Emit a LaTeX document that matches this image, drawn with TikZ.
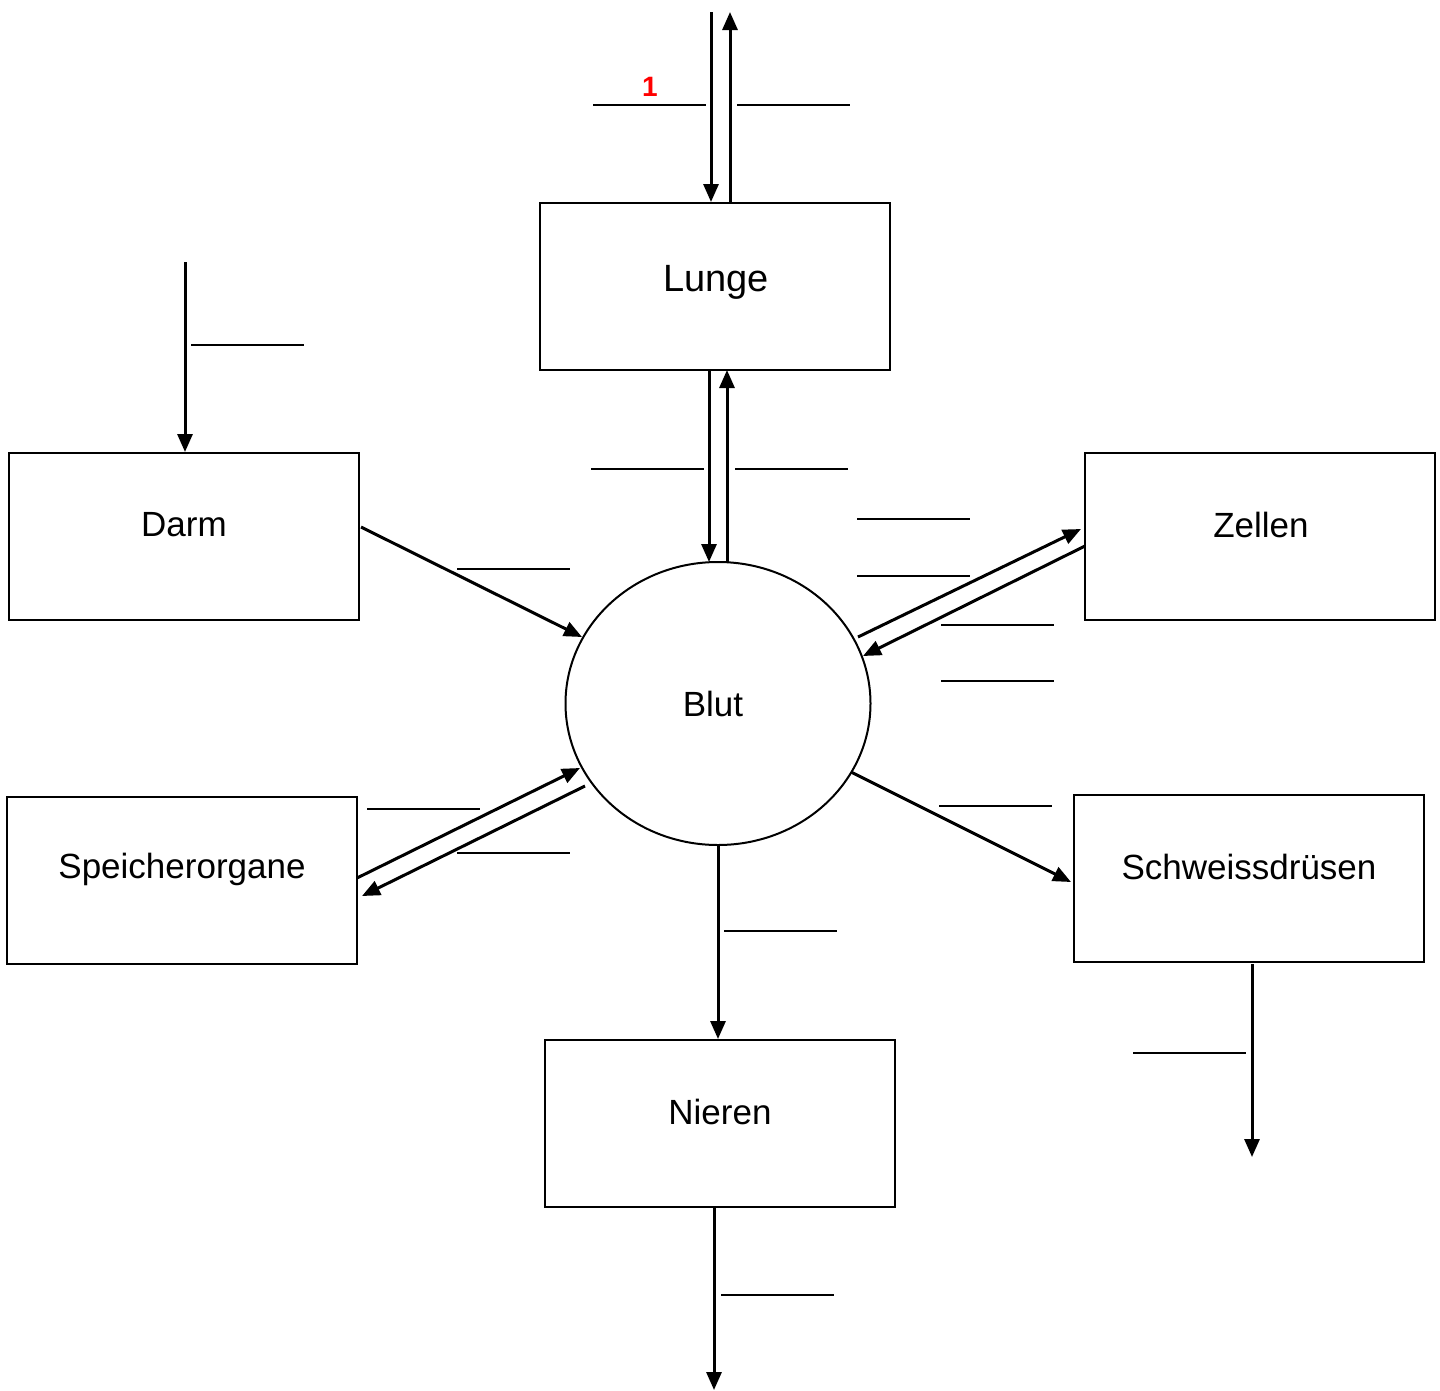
\documentclass[tikz,border=0pt]{standalone}
\usepackage{fontspec}
\setmainfont{Liberation Sans}
\usetikzlibrary{arrows.meta,shapes.geometric}
\tikzset{
  organ/.style={draw,line width=2pt,minimum width=350pt,minimum height=167pt,inner sep=0pt},
  lbl/.style={font=\fontsize{35}{38}\selectfont,inner sep=0pt},
  flow/.style={line width=3pt,-{Triangle[length=18pt,width=15pt]}},
  blank/.style={line width=2pt}
}
\begin{document}
\begin{tikzpicture}[x=1pt,y=-1pt]
\useasboundingbox (0,0) rectangle (1440,1390);
% boxes
\node[organ] (lunge) at (715,286.5) {};
\node[organ] (darm) at (184,536.5) {};
\node[organ] (zellen) at (1260,536.5) {};
\node[organ] (speicher) at (182,880.5) {};
\node[organ] (schweiss) at (1249,878.5) {};
\node[organ] (nieren) at (720,1123) {};
\node[draw,ellipse,line width=2pt,minimum width=305pt,minimum height=283pt,inner sep=0pt] (blut) at (718,703.5) {};
% labels
\node[lbl,font=\fontsize{38}{40}\selectfont] (tlunge) at (716,282) {Lunge};
\node[lbl] (tdarm) at (184,525) {Darm};
\node[lbl] (tzellen) at (1261,525) {Zellen};
\node[lbl] (tspeicher) at (182,869) {Speicherorgane};
\node[lbl] (tschweiss) at (1249,867) {Schweissdrüsen};
\node[lbl] (tnieren) at (720,1112) {Nieren};
\node[lbl] (tblut) at (713,704) {Blut};
\node[font=\fontsize{28}{30}\selectfont\bfseries,text=red,inner sep=0pt] (one) at (650,87) {1};
% free ends
\coordinate (topA) at (711,12);
\coordinate (topB) at (730,12);
\coordinate (darmin) at (185,262);
\coordinate (schout) at (1252,1157);
\coordinate (nieout) at (714,1390);
% vertical arrows
\draw[flow] (topA) -- (topA |- lunge.north);
\draw[flow] (topB |- lunge.north) -- (topB);
\draw[flow] (709,370) -- (709,562);
\draw[flow] (727,562) -- (727,370);
\draw[flow] (darmin) -- (darmin |- darm.north);
\draw[flow] (718,845) -- (718,1039);
\draw[flow] (1252,964) -- (schout);
\draw[flow] (714,1207) -- (nieout);
% diagonal arrows
\coordinate (d1) at (361,527); \coordinate (d2) at (582,637);
\draw[flow] (d1) -- (d2);
\coordinate (z1) at (858,637); \coordinate (z2) at (1081,529);
\draw[flow] (z1) -- (z2);
\coordinate (z3) at (1085,546); \coordinate (z4) at (863,656);
\draw[flow] (z3) -- (z4);
\coordinate (s1) at (357,878); \coordinate (s2) at (580,768);
\draw[flow] (s1) -- (s2);
\coordinate (s3) at (585,786); \coordinate (s4) at (362,896);
\draw[flow] (s3) -- (s4);
\coordinate (w1) at (851,772); \coordinate (w2) at (1071,882);
\draw[flow] (w1) -- (w2);
% blank answer lines
\draw[blank] (593,105) -- (706,105);
\draw[blank] (737,105) -- (850,105);
\draw[blank] (191,345) -- (304,345);
\draw[blank] (591,469) -- (704,469);
\draw[blank] (735,469) -- (848,469);
\draw[blank] (857,519) -- (970,519);
\draw[blank] (857,576) -- (970,576);
\draw[blank] (941,625) -- (1054,625);
\draw[blank] (941,681) -- (1054,681);
\draw[blank] (457,569) -- (570,569);
\draw[blank] (367,809) -- (480,809);
\draw[blank] (457,853) -- (570,853);
\draw[blank] (939,806) -- (1052,806);
\draw[blank] (724,931) -- (837,931);
\draw[blank] (1133,1053) -- (1246,1053);
\draw[blank] (721,1295) -- (834,1295);
\end{tikzpicture}
\end{document}
